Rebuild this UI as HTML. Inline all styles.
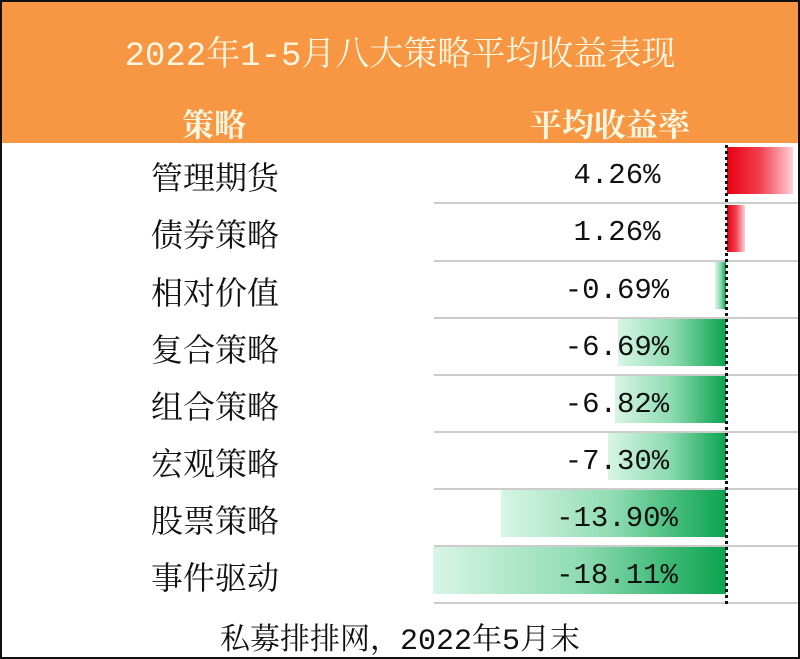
<!DOCTYPE html>
<html><head><meta charset="utf-8"><style>
body{margin:0;width:800px;height:659px;overflow:hidden;background:#fff;font-family:"Liberation Mono","Noto Serif CJK SC",monospace;}
#w{position:absolute;left:0;top:0;width:796px;height:655px;border:2px solid #111;background:#fff;}
.hd{position:absolute;left:0;top:0;width:796px;height:141px;background:#f79643;}
.t{position:absolute;color:#fff6e0;white-space:nowrap;}
.row{position:absolute;left:0;width:796px;height:57px;}
.nm{position:absolute;left:100px;width:226px;text-align:center;font-size:32px;top:8px;color:#111;}
.val{position:absolute;left:500px;width:230px;text-align:center;font-size:29px;top:14px;color:#111;}
.sep{position:absolute;left:432px;right:0;height:2px;background:#ccc;}
.bar{position:absolute;height:47px;}
.g{background:linear-gradient(to right,#d8f5e6,#8fdcb2 50%,#0aa34f);}
.r{background:linear-gradient(to right,#e8000f,#f04050 50%,#ffd0d6);}
</style></head><body><div id="w">
<div class="hd"></div>
<div class="t" style="left:0;width:796px;text-align:center;top:24px;font-size:34px;">2022年1-5月八大策略平均收益表现</div>
<div class="t" style="left:180px;top:98px;font-size:32px;font-weight:bold;">策略</div>
<div class="t" style="left:528px;top:98px;font-size:32px;font-weight:bold;">平均收益率</div>

<div class="bar r" style="left:725px;width:66px;top:145px"></div>
<div class="bar r" style="left:725px;width:18px;top:203px"></div>
<div class="bar g" style="left:713px;width:11px;top:260px"></div>
<div class="bar g" style="left:616px;width:108px;top:317px"></div>
<div class="bar g" style="left:613px;width:111px;top:374px"></div>
<div class="bar g" style="left:606px;width:118px;top:431px"></div>
<div class="bar g" style="left:499px;width:225px;top:488px"></div>
<div class="bar g" style="left:431px;width:293px;top:545px"></div>

<div class="sep" style="top:200px"></div><div class="sep" style="top:258px"></div><div class="sep" style="top:315px"></div><div class="sep" style="top:372px"></div><div class="sep" style="top:429px"></div><div class="sep" style="top:486px"></div><div class="sep" style="top:543px"></div><div class="sep" style="top:600px"></div>
<div style="position:absolute;left:723px;top:143px;height:459px;border-left:3px dotted #111;"></div>

<div class="row" style="top:143px"><div class="nm">管理期货</div><div class="val">4.26%</div></div>
<div class="row" style="top:200px"><div class="nm">债券策略</div><div class="val">1.26%</div></div>
<div class="row" style="top:258px"><div class="nm">相对价值</div><div class="val">-0.69%</div></div>
<div class="row" style="top:315px"><div class="nm">复合策略</div><div class="val">-6.69%</div></div>
<div class="row" style="top:372px"><div class="nm">组合策略</div><div class="val">-6.82%</div></div>
<div class="row" style="top:429px"><div class="nm">宏观策略</div><div class="val">-7.30%</div></div>
<div class="row" style="top:486px"><div class="nm">股票策略</div><div class="val">-13.90%</div></div>
<div class="row" style="top:543px"><div class="nm">事件驱动</div><div class="val">-18.11%</div></div>
<div style="position:absolute;left:0;width:796px;text-align:center;top:612px;font-size:30px;color:#111;">私募排排网，2022年5月末</div>
</div></body></html>
